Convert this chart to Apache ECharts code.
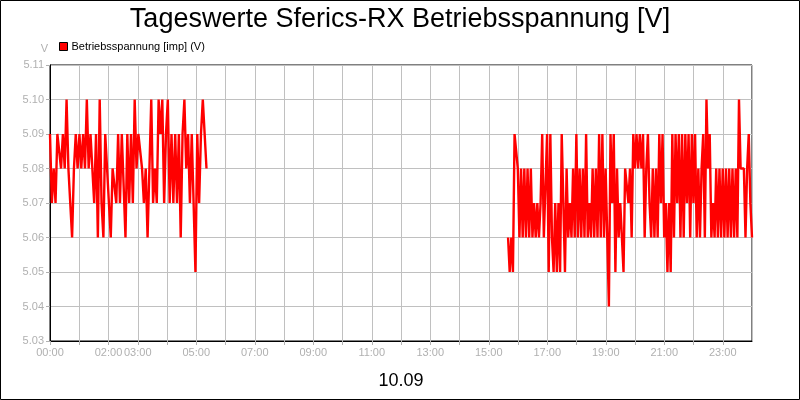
<!DOCTYPE html>
<html>
<head>
<meta charset="utf-8">
<script src="https://cdn.jsdelivr.net/npm/echarts@6/dist/echarts.min.js"></script>
<style>
html, body { margin: 0; padding: 0; background: #fff; }
#chart { width: 800px; height: 400px; }
</style>
</head>
<body>
<div id="chart"></div>
<script>
const titleText = 'Tageswerte Sferics-RX Betriebsspannung [V]'
const seriesName = 'Betriebsspannung [imp] (V)'
const dayLabel = '10.09'
// hours that carry a label on the x axis
const labelHours = [0, 2, 3, 5, 7, 9, 11, 13, 15, 17, 19, 21, 23]

// first block of readings, 00:00 - 05:20
const seg1Start = 0, seg1End = 5.35
const seg1Values = [5.09, 5.07, 5.08, 5.07, 5.09, 5.09, 5.08, 5.09, 5.08, 5.10, 5.08, 5.08, 5.06, 5.08, 5.09,
    5.08, 5.09, 5.08, 5.09, 5.08, 5.10, 5.08, 5.09, 5.09, 5.07, 5.09, 5.06, 5.10, 5.07, 5.06, 5.09, 5.09,
    5.07, 5.06, 5.08, 5.08, 5.07, 5.09, 5.07, 5.09, 5.09, 5.06, 5.09, 5.07, 5.09, 5.07, 5.10, 5.08, 5.09,
    5.09, 5.08, 5.07, 5.08, 5.06, 5.08, 5.10, 5.07, 5.08, 5.07, 5.10, 5.09, 5.10, 5.07, 5.09, 5.10, 5.07,
    5.09, 5.07, 5.09, 5.07, 5.09, 5.06, 5.09, 5.10, 5.08, 5.09, 5.07, 5.09, 5.07, 5.05, 5.09, 5.07, 5.09,
    5.10, 5.09, 5.08]

// second block of readings, 15:40 - 24:00
const seg2Start = 15.66, seg2End = 24
const seg2Values = [5.06, 5.05, 5.06, 5.05, 5.09, 5.09, 5.08, 5.06, 5.08, 5.06, 5.08, 5.06, 5.08, 5.06, 5.08,
    5.06, 5.07, 5.06, 5.07, 5.06, 5.07, 5.09, 5.06, 5.06, 5.09, 5.05, 5.09, 5.06, 5.05, 5.07, 5.05, 5.07,
    5.05, 5.09, 5.09, 5.05, 5.08, 5.06, 5.07, 5.06, 5.08, 5.06, 5.09, 5.06, 5.08, 5.06, 5.08, 5.06, 5.09,
    5.06, 5.07, 5.06, 5.08, 5.06, 5.08, 5.06, 5.09, 5.06, 5.09, 5.06, 5.08, 5.06, 5.04, 5.09, 5.07, 5.09,
    5.05, 5.08, 5.06, 5.07, 5.06, 5.05, 5.08, 5.08, 5.07, 5.08, 5.06, 5.09, 5.08, 5.09, 5.08, 5.09, 5.08,
    5.09, 5.06, 5.08, 5.09, 5.07, 5.06, 5.08, 5.06, 5.08, 5.06, 5.09, 5.07, 5.09, 5.06, 5.07, 5.05, 5.07,
    5.05, 5.09, 5.06, 5.09, 5.07, 5.09, 5.06, 5.09, 5.06, 5.09, 5.07, 5.09, 5.06, 5.09, 5.07, 5.09, 5.06,
    5.08, 5.06, 5.08, 5.09, 5.06, 5.10, 5.08, 5.09, 5.06, 5.07, 5.06, 5.08, 5.06, 5.08, 5.06, 5.08, 5.06,
    5.08, 5.06, 5.08, 5.06, 5.08, 5.06, 5.08, 5.06, 5.10, 5.08, 5.08, 5.08, 5.06, 5.08, 5.09, 5.07, 5.06]

// spread each block evenly over its time span, null breaks the line in between
function toPoints(start, end, values) {
    const step = (end - start) / (values.length - 1)
    return values.map((v, i) => [start + i * step, v])
}
const lineData = toPoints(seg1Start, seg1End, seg1Values)
    .concat([[10, null]])
    .concat(toPoints(seg2Start, seg2End, seg2Values))

const font = 'Liberation Sans, Arial, sans-serif'
const chart = echarts.init(document.getElementById('chart'), null, {renderer: 'canvas'})
chart.setOption({
    animation: false,
    backgroundColor: '#fff',
    textStyle: {fontFamily: font},
    title: {
        text: titleText,
        left: 'center',
        top: 1,
        textStyle: {fontSize: 27, fontWeight: 'normal', color: '#000', fontFamily: font}
    },
    legend: {
        left: 54,
        top: 36,
        icon: 'rect',
        itemWidth: 8,
        itemHeight: 8,
        itemGap: 4,
        textStyle: {fontSize: 11, color: '#000', fontFamily: font, padding: [0, 0, 0, -1]},
        data: [{name: seriesName, itemStyle: {color: '#ff0000', borderColor: '#000', borderWidth: 1}}]
    },
    grid: {
        left: 50, right: 48, top: 65, bottom: 59,
        show: true, borderColor: '#000', borderWidth: 1
    },
    xAxis: {
        type: 'value',
        min: 0,
        max: 24,
        interval: 1,
        name: dayLabel,
        nameLocation: 'middle',
        nameGap: 31,
        nameTextStyle: {fontSize: 18, color: '#000', fontFamily: font},
        axisLine: {lineStyle: {color: '#000', width: 1}},
        axisTick: {show: true, length: 4, lineStyle: {color: '#b0b0b0'}},
        splitLine: {show: true, lineStyle: {color: '#c0c0c0', width: 1}},
        axisLabel: {
            color: '#b0b0b0',
            fontSize: 11,
            margin: 6,
            showMaxLabel: false,
            formatter: v => labelHours.includes(v) ? String(v).padStart(2, '0') + ':00' : ''
        }
    },
    yAxis: {
        type: 'value',
        min: 5.03,
        max: 5.11,
        interval: 0.01,
        name: 'V',
        nameGap: 11,
        nameTextStyle: {fontSize: 11, color: '#b0b0b0', align: 'right', padding: [0, 2, 0, 0]},
        axisLine: {show: true, lineStyle: {color: '#000', width: 1}},
        axisTick: {show: true, length: 4, lineStyle: {color: '#b0b0b0'}},
        splitLine: {show: true, lineStyle: {color: '#c0c0c0', width: 1}},
        axisLabel: {color: '#b0b0b0', fontSize: 11, margin: 6, formatter: v => v.toFixed(2)}
    },
    series: [{
        name: seriesName,
        type: 'line',
        data: lineData,
        showSymbol: false,
        connectNulls: false,
        lineStyle: {color: '#ff0000', width: 2.4},
        itemStyle: {color: '#ff0000'}
    }],
    graphic: [{
        type: 'rect',
        shape: {x: 0.5, y: 0.5, width: 799, height: 399},
        style: {fill: 'none', stroke: '#000', lineWidth: 1},
        silent: true
    }]
})
</script>
</body>
</html>
